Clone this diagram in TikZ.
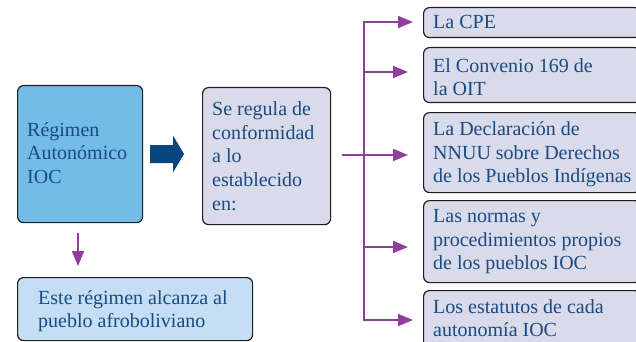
\documentclass[tikz,border=0pt]{standalone}
\usepackage{fontspec}
\setmainfont{Liberation Serif}
\usetikzlibrary{arrows.meta}
\definecolor{regc}{HTML}{73BCE8}
\definecolor{sec}{HTML}{D9DBEA}
\definecolor{estc}{HTML}{C5DEF3}
\definecolor{textc}{HTML}{194A82}
\definecolor{fatc}{HTML}{07467F}
\definecolor{purp}{HTML}{8E3F99}
\definecolor{edge}{HTML}{1E1E1E}
\begin{document}
\begin{tikzpicture}[x=1pt,y=-1pt,
  box/.style={draw=edge, line width=1.2pt, rounded corners=6pt, anchor=north west, inner sep=0pt},
  rbox/.style={box, fill=sec, minimum width=217pt},
  txt/.style={anchor=west, align=left, inner sep=0pt, text=textc,
    font=\fontsize{20}{23.6}\selectfont},
  parr/.style={draw=purp, line width=1.9pt, -{Triangle[length=15pt,width=12pt]}}]
\useasboundingbox (0,0) rectangle (636,342);
\clip (0,0) rectangle (636,342);
% left boxes
\node[box, fill=regc, minimum width=125pt, minimum height=137pt] (reg) at (17,85) {};
\node[txt] (regt) at ([xshift=10pt,yshift=1pt]reg.west) {Régimen\\Autonómico\\IOC};
\node[box, fill=sec, minimum width=128pt, minimum height=137pt] (se) at (202,87) {};
\node[txt] (set) at ([xshift=10pt]se.west) {Se regula de\\conformidad\\a lo\\establecido\\en:};
\node[box, fill=estc, minimum width=235pt, minimum height=63pt] (este) at (17,277) {};
\node[txt] (estet) at ([xshift=21pt,yshift=-2pt]este.west) {Este régimen alcanza al\\pueblo afroboliviano};
% right boxes
\node[rbox, minimum height=30pt] (b1) at (423,7) {};
\node[txt] (b1t) at ([xshift=10pt,yshift=1pt]b1.west) {La CPE};
\node[rbox, minimum height=55pt] (b2) at (423,47) {};
\node[txt] (b2t) at ([xshift=10pt,yshift=-2pt]b2.west) {El Convenio 169 de\\la OIT};
\node[rbox, minimum height=80pt] (b3) at (423,112) {};
\node[txt] (b3t) at ([xshift=10pt,yshift=-2pt]b3.west) {La Declaración de\\NNUU sobre Derechos\\de los Pueblos Indígenas};
\node[rbox, minimum height=82pt] (b4) at (423,200) {};
\node[txt] (b4t) at ([xshift=10pt]b4.west) {Las normas y\\procedimientos propios\\de los pueblos IOC};
\node[rbox, minimum height=58pt] (b5) at (423,290) {};
\node[txt] (b5t) at ([xshift=10pt,yshift=1.5pt]b5.west) {Los estatutos de cada\\autonomía IOC};
% fat arrow
\fill[fatc] (150,145) -- (173,145) -- (173,135.5) -- (184,154) -- (173,172.5) -- (173,163) -- (150,163) -- cycle;
% down arrow
\draw[parr, shorten <=10pt, shorten >=11pt] (reg.south -| 78,0) -- (este.north -| 78,0);
% tree
\coordinate (s) at (342,155);
\coordinate (t1) at (364,22);
\coordinate (t2) at (364,72);
\coordinate (t5) at (364,320);
\coordinate (t4) at (364,247);
\draw[parr, shorten >=10pt] (t5) -- (t1) -- (t1 -| b1.west);
\draw[parr, shorten >=10pt] (t1) -- (t5) -- (t5 -| b5.west);
\draw[parr, shorten >=15pt] (t2) -- (t2 -| b2.west);
\draw[parr, shorten >=15pt] (s) -- (s -| b3.west);
\draw[parr, shorten >=15pt] (t4) -- (t4 -| b4.west);
\end{tikzpicture}
\end{document}
